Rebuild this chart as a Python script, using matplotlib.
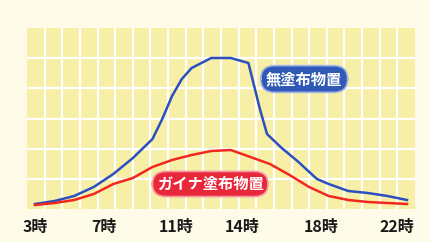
import matplotlib
matplotlib.use("Agg")
import matplotlib.pyplot as plt

plt.rcParams['font.family'] = ['Noto Sans CJK JP', 'DejaVu Sans']

# data (relative heat values)
hours_blue = [3, 4, 5, 6, 7, 8, 9, 9.5, 10, 10.5, 11, 12, 13, 13.9, 14.5, 14.85, 15.6, 16.4, 17.4, 18, 19, 20, 21, 22]
blue_vals = [5, 8, 13, 22, 35, 51, 70, 90, 113, 130, 141, 151, 151, 146, 99, 75, 61, 48, 30, 25, 18, 16, 13, 9]
hours_red = [3, 4, 5, 6, 7, 8, 9, 10, 11, 12, 13, 14, 15, 16, 17, 18, 19, 20, 21, 22]
red_vals = [4, 6, 9, 15, 25, 31, 42, 49, 54, 58, 59, 52, 45, 34, 22, 13, 9, 7, 6, 5]
tick_labels = ["3時", "7時", "11時", "14時", "18時", "22時"]
series_names = ["無塗布物置", "ガイナ塗布物置"]

# layout
tick_pos = [3.0, 6.5, 10.2, 13.6, 17.6, 21.5]

fig = plt.figure(figsize=(4.30, 2.42), dpi=100)
fig.patch.set_facecolor('#fffbe9')
ax = fig.add_axes([27/430, 1 - 209/242, 388/430, 181/242])
ax.set_facecolor('#f8efa6')
ax.set_xlim(3 - 8/19.58, 22 + 8/19.58)
ax.set_ylim(0, 181)

x0, x1 = ax.get_xlim()
for i in range(1, 22):
    ax.axvline(x0 + i/22 * (x1 - x0), color='white', lw=1.6, zorder=1)
for j in range(1, 6):
    ax.axhline(j * 181/6, color='white', lw=1.6, zorder=1)

ax.plot(hours_blue, blue_vals, color='#2b4fc0', lw=1.8, zorder=3)
ax.plot(hours_red, red_vals, color='#f0281e', lw=1.8, zorder=3)

for s in ax.spines.values():
    s.set_visible(False)
ax.tick_params(length=0, pad=7)
ax.set_yticks([])
ax.set_xticks(tick_pos)
ax.set_xticklabels(tick_labels, fontsize=11.5, fontweight='bold', color='#1a1a1a')

ax.text(16.75, 130, series_names[0], ha='center', va='center', fontsize=11,
        fontweight='bold', color='white', zorder=5,
        bbox=dict(boxstyle='round,pad=0.35,rounding_size=0.9', fc='#2f59b5', ec='#9fb4e6', lw=1.2))
ax.text(11.95, 25, series_names[1], ha='center', va='center', fontsize=11,
        fontweight='bold', color='white', zorder=5,
        bbox=dict(boxstyle='round,pad=0.3,rounding_size=0.9', fc='#e8283a', ec='#f59aa0', lw=1.2))

fig.savefig('out.png', dpi=100, facecolor=fig.get_facecolor())
